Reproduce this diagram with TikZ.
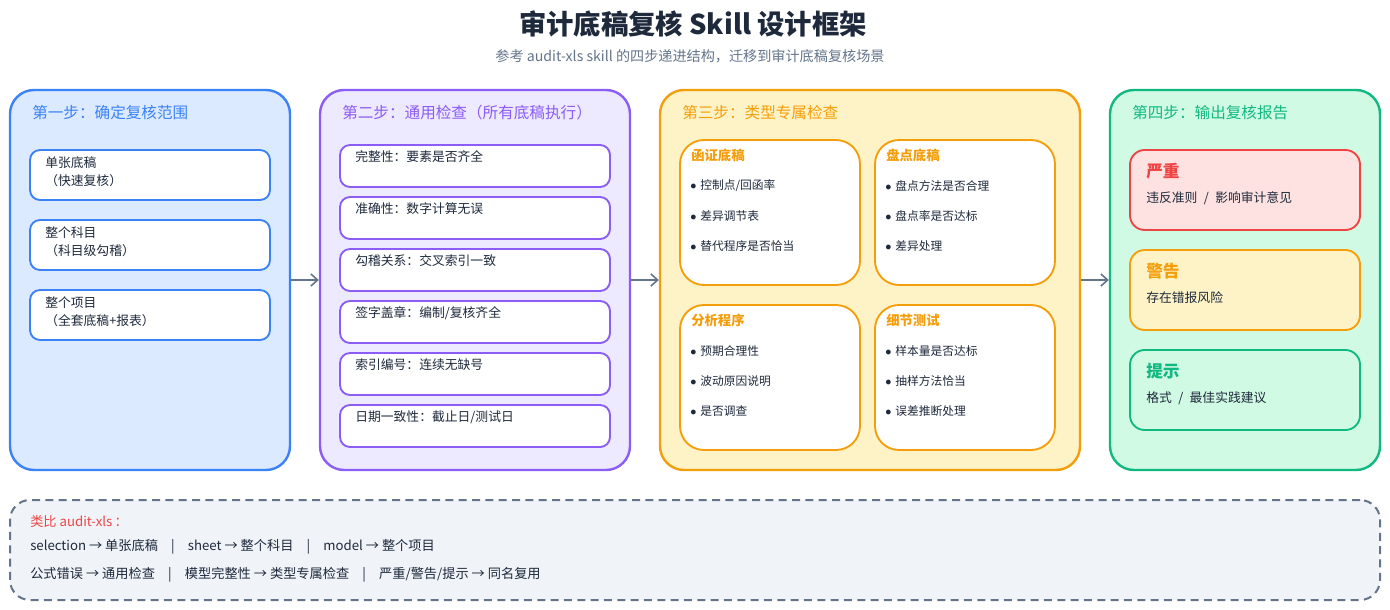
\documentclass[tikz,border=0pt]{standalone}
\usepackage{fontspec}
\setmainfont{Noto Sans CJK SC}
\usepackage{xcolor}
\usepackage{tikz}
\usetikzlibrary{arrows.meta,positioning,fit}
\definecolor{stepblue}{HTML}{3B82F6}
\definecolor{steppurple}{HTML}{8B5CF6}
\definecolor{steporange}{HTML}{F59E0B}
\definecolor{stepgreen}{HTML}{10B981}
\definecolor{stepred}{HTML}{EF4444}
\definecolor{softblue}{HTML}{DBEAFE}
\definecolor{softpurple}{HTML}{EDE9FE}
\definecolor{softorange}{HTML}{FEF3C7}
\definecolor{softgreen}{HTML}{D1FAE5}
\definecolor{softred}{HTML}{FEE2E2}
\definecolor{softgray}{HTML}{F0F3F8}
\definecolor{inkdark}{HTML}{1E293B}
\definecolor{inkgray}{HTML}{64748B}
\tikzset{
  stepbox/.style={rounded corners=18pt,line width=1.8pt,inner sep=0pt},
  itembox/.style={rounded corners=7.5pt,line width=1.4pt,fill=white,inner sep=0pt},
  subbox/.style={rounded corners=18pt,line width=1.4pt,fill=white,inner sep=0pt,draw=steporange},
  levelbox/.style={rounded corners=11pt,line width=1.4pt,inner sep=0pt},
  steptitle/.style={anchor=west,inner sep=0pt,font=\fontsize{11.7}{14}\selectfont},
  itemtext/.style={anchor=west,inner sep=0pt,text=inkdark,font=\fontsize{9.6}{13.5}\selectfont},
  notetext/.style={anchor=west,inner sep=0pt,text=inkdark,font=\fontsize{9.9}{12}\selectfont},
  subtitle/.style={anchor=west,inner sep=0pt,text=steporange,font=\fontsize{10}{12}\selectfont\bfseries},
  bullettext/.style={anchor=west,inner sep=0pt,text=inkdark,font=\fontsize{8.8}{11}\selectfont},
  leveltitle/.style={anchor=west,inner sep=0pt,font=\fontsize{12.5}{15}\selectfont\bfseries},
  flow/.style={-{Straight Barb[length=5pt,width=9pt]},line width=1.2pt,inkgray}
}
\newcommand{\bul}{$\bullet$\hspace{3pt}}
\newcommand{\sep}{\quad|\quad}
\newcommand{\slashsep}{\enspace/\enspace}

\begin{document}
\begin{tikzpicture}[x=0.75pt,y=-0.75pt]
  \useasboundingbox (0,0) rectangle (1390,610);
  % header
  \node[text=inkdark,font=\fontsize{20.5}{24}\selectfont\bfseries] (title) at (693,24) {审计底稿复核 Skill 设计框架};
  \node[text=inkgray,font=\fontsize{10.6}{12}\selectfont] (subtitle) at (690,56) {参考 audit-xls skill 的四步递进结构，迁移到审计底稿复核场景};

  % step 1
  \node[stepbox,draw=stepblue,fill=softblue,fit={(10,90) (290,470)}] (step1) {};
  \node[steptitle,text=stepblue] (t1) at (32,113) {第一步：确定复核范围};
  \node[itembox,draw=stepblue,fit={(30,150) (270,200)}] (s1a) {};
  \node[itembox,draw=stepblue,fit={(30,220) (270,270)}] (s1b) {};
  \node[itembox,draw=stepblue,fit={(30,290) (270,340)}] (s1c) {};
  \node[itemtext,align=left] (s1atext) at (45,172) {单张底稿\\（快速复核）};
  \node[itemtext,align=left] (s1btext) at (45,242) {整个科目\\（科目级勾稽）};
  \node[itemtext,align=left] (s1ctext) at (45,312) {整个项目\\（全套底稿+报表）};

  % step 2
  \node[stepbox,draw=steppurple,fill=softpurple,fit={(320,90) (630,470)}] (step2) {};
  \node[steptitle,text=steppurple] (t2) at (342,113) {第二步：通用检查（所有底稿执行）};
  \node[itembox,draw=steppurple,fit={(340,145) (610,187)}] (s2a) {};
  \node[itembox,draw=steppurple,fit={(340,197) (610,239)}] (s2b) {};
  \node[itembox,draw=steppurple,fit={(340,249) (610,291)}] (s2c) {};
  \node[itembox,draw=steppurple,fit={(340,301) (610,343)}] (s2d) {};
  \node[itembox,draw=steppurple,fit={(340,353) (610,395)}] (s2e) {};
  \node[itembox,draw=steppurple,fit={(340,405) (610,447)}] (s2f) {};
  \node[itemtext] (s2atext) at (355,157) {完整性：要素是否齐全};
  \node[itemtext] (s2btext) at (355,209) {准确性：数字计算无误};
  \node[itemtext] (s2ctext) at (355,261) {勾稽关系：交叉索引一致};
  \node[itemtext] (s2dtext) at (355,313) {签字盖章：编制/复核齐全};
  \node[itemtext] (s2etext) at (355,365) {索引编号：连续无缺号};
  \node[itemtext] (s2ftext) at (355,417) {日期一致性：截止日/测试日};

  % step 3
  \node[stepbox,draw=steporange,fill=softorange,fit={(660,90) (1080,470)}] (step3) {};
  \node[steptitle,text=steporange] (t3) at (682,113) {第三步：类型专属检查};
  \node[subbox,fit={(680,140) (860,285)}] (s3a) {};
  \node[subbox,fit={(875,140) (1055,285)}] (s3b) {};
  \node[subbox,fit={(680,305) (860,450)}] (s3c) {};
  \node[subbox,fit={(875,305) (1055,450)}] (s3d) {};
  \node[subtitle] (s3atitle) at (691,155) {函证底稿};
  \node[bullettext] (s3a1) at (690,186) {\bul 控制点/回函率};
  \node[bullettext] (s3a2) at (690,216) {\bul 差异调节表};
  \node[bullettext] (s3a3) at (690,246) {\bul 替代程序是否恰当};
  \node[subtitle] (s3btitle) at (886,155) {盘点底稿};
  \node[bullettext] (s3b1) at (885,186) {\bul 盘点方法是否合理};
  \node[bullettext] (s3b2) at (885,216) {\bul 盘点率是否达标};
  \node[bullettext] (s3b3) at (885,246) {\bul 差异处理};
  \node[subtitle] (s3ctitle) at (691,320) {分析程序};
  \node[bullettext] (s3c1) at (690,351) {\bul 预期合理性};
  \node[bullettext] (s3c2) at (690,381) {\bul 波动原因说明};
  \node[bullettext] (s3c3) at (690,411) {\bul 是否调查};
  \node[subtitle] (s3dtitle) at (886,320) {细节测试};
  \node[bullettext] (s3d1) at (885,351) {\bul 样本量是否达标};
  \node[bullettext] (s3d2) at (885,381) {\bul 抽样方法恰当};
  \node[bullettext] (s3d3) at (885,411) {\bul 误差推断处理};

  % step 4
  \node[stepbox,draw=stepgreen,fill=softgreen,fit={(1110,90) (1380,470)}] (step4) {};
  \node[steptitle,text=stepgreen] (t4) at (1132,113) {第四步：输出复核报告};
  \node[levelbox,draw=stepred,fill=softred,fit={(1130,150) (1360,230)}] (lvhigh) {};
  \node[levelbox,draw=steporange,fill=softorange,fit={(1130,250) (1360,330)}] (lvmid) {};
  \node[levelbox,draw=stepgreen,fill=softgreen,fit={(1130,350) (1360,430)}] (lvlow) {};
  \node[leveltitle,text=stepred] (lvhightitle) at (1146,171) {严重};
  \node[itemtext] (lvhightext) at (1146,198) {违反准则\slashsep{}影响审计意见};
  \node[leveltitle,text=steporange] (lvmidtitle) at (1146,271) {警告};
  \node[itemtext] (lvmidtext) at (1146,298) {存在错报风险};
  \node[leveltitle,text=stepgreen] (lvlowtitle) at (1146,371) {提示};
  \node[itemtext] (lvlowtext) at (1146,398) {格式\slashsep{}最佳实践建议};

  % flow between steps
  \draw[flow] (step1) -- (step2);
  \draw[flow] (step2) -- (step3);
  \draw[flow] (step3) -- (step4);

  % analogy note
  \node[rounded corners=15pt,line width=1.5pt,draw=inkgray,fill=softgray,dash pattern=on 6pt off 4pt,inner sep=0pt,fit={(10,500) (1380,600)}] (note) {};
  \node[notetext,text=stepred] (notetitle) at (30,521) {类比 audit-xls\,：};
  \node[notetext] (noteline1) at (30,547) {selection → 单张底稿\sep{}sheet → 整个科目\sep{}model → 整个项目};
  \node[notetext] (noteline2) at (30,575) {公式错误 → 通用检查\sep{}模型完整性 → 类型专属检查\sep{}严重/警告/提示 → 同名复用};
\end{tikzpicture}
\end{document}
